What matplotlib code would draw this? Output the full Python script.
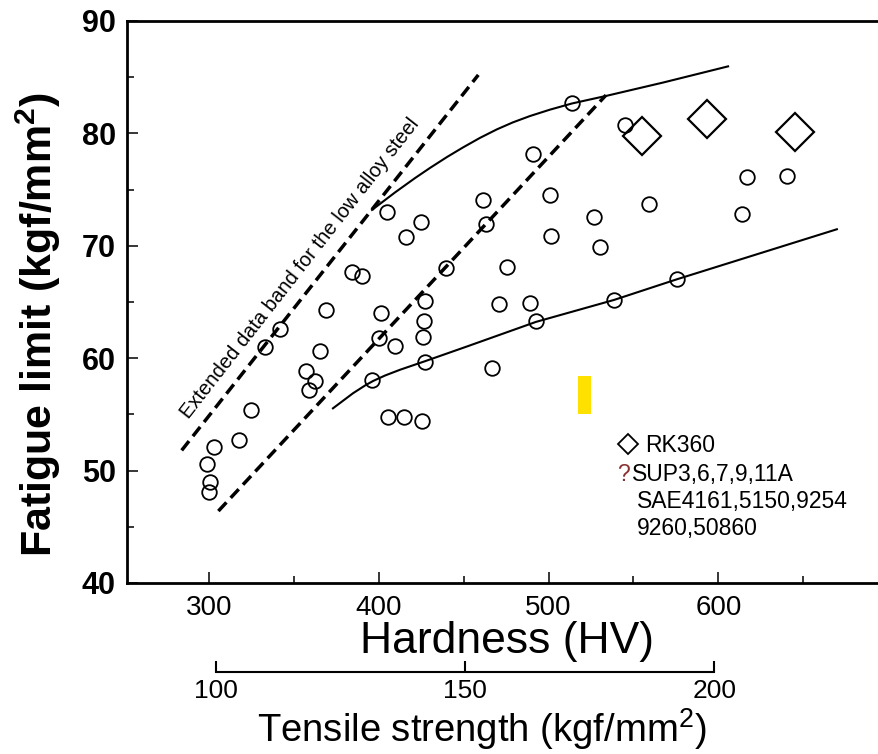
import matplotlib.pyplot as plt
from matplotlib.patches import Rectangle

plt.rcParams['font.family'] = ['Liberation Sans', 'DejaVu Sans']
plt.rcParams['mathtext.fontset'] = 'custom'
plt.rcParams['mathtext.rm'] = 'Liberation Sans'
plt.rcParams['mathtext.bf'] = 'Liberation Sans:bold'

# spring steels SUP3,6,7,9,11A / SAE... (open circles)
hv_circle = [300.2, 300.6, 299.1, 302.9, 317.8, 324.6, 333.2, 342.0, 368.7, 365.1,
             357.0, 362.2, 359.1, 396.1, 401.0, 400.3, 409.5, 427.2, 426.7, 426.2,
             427.0, 405.4, 415.0, 425.3, 404.8, 424.7, 416.0, 384.4, 390.3, 439.3,
             466.4, 470.8, 489.0, 492.6, 475.3, 463.1, 461.5, 491.0, 501.1, 501.6,
             526.9, 530.4, 513.6, 545.0, 559.3, 538.7, 575.4, 617.0, 640.6, 613.7]
fl_circle = [48.1, 49.0, 50.6, 52.1, 52.7, 55.4, 61.0, 62.6, 64.3, 60.6,
             58.9, 58.0, 57.2, 58.1, 64.0, 61.8, 61.1, 65.1, 63.3, 61.9,
             59.7, 54.8, 54.8, 54.4, 73.0, 72.1, 70.8, 67.7, 67.3, 68.0,
             59.1, 64.8, 64.9, 63.3, 68.1, 71.9, 74.1, 78.2, 74.5, 70.9,
             72.6, 69.9, 82.7, 80.7, 73.7, 65.2, 67.0, 76.1, 76.2, 72.8]

# RK360 (open diamonds)
hv_rk = [555.2, 593.5, 645.1]
fl_rk = [79.8, 81.3, 80.1]

# extended band for low alloy steel (dashed)
hv_dash_upper = [283.9, 458.6]
fl_dash_upper = [51.8, 85.2]
hv_dash_lower = [305.5, 533.8]
fl_dash_lower = [46.4, 83.4]

# scatter band of spring steels (solid)
hv_curve_upper = [396.0, 409.5, 421.3, 430.2, 440.2, 449.6, 459.6, 469.6, 479.0,
                  489.0, 500.8, 513.8, 534.4, 567.4, 605.7]
fl_curve_upper = [73.19, 74.74, 76.02, 76.93, 77.9, 78.75, 79.6, 80.36, 80.98,
                  81.54, 82.11, 82.66, 83.35, 84.52, 85.96]
hv_curve_lower = [373.0, 384.8, 391.9, 396.6, 403.7, 412.5, 427.2, 451.9, 492.6,
                  538.5, 575.6, 669.8]
fl_curve_lower = [55.54, 56.88, 57.57, 57.97, 58.46, 58.97, 59.73, 61.04, 63.23,
                  65.18, 67.02, 71.47]

hv_ticks = [300, 400, 500, 600]
fl_ticks = [40, 50, 60, 70, 80, 90]
ts_ticks = [100, 150, 200]

fig = plt.figure(figsize=(8.79, 7.54), dpi=100)
ax = fig.add_axes([0.1445, 0.2268, 0.8555, 0.7454])

ax.plot(hv_dash_upper, fl_dash_upper, color='black', lw=2.5, dashes=(3.4, 1.8))
ax.plot(hv_dash_lower, fl_dash_lower, color='black', lw=2.5, dashes=(3.4, 1.8))
ax.plot(hv_curve_upper, fl_curve_upper, color='black', lw=1.5)
ax.plot(hv_curve_lower, fl_curve_lower, color='black', lw=1.5)

ax.plot(hv_circle, fl_circle, 'o', ms=10.5, mfc='none', mec='black', mew=1.3)
ax.plot(hv_rk, fl_rk, 'D', ms=19, mfc='none', mec='black', mew=1.6)

# yellow mark
ax.add_patch(Rectangle((517.1, 55.0), 7.7, 3.44, color='#FFE100', lw=0))

ax.text(353.6, 68.0, 'Extended data band for the low alloy steel', fontsize=14.5,
        rotation=52, rotation_mode='anchor', ha='center', va='center')

# legend-like notes
ax.plot([546.5], [52.37], 'D', ms=9.7, mfc='none', mec='black', mew=1.3)
ax.text(556.8, 51.65, 'RK360', fontsize=16.5, va='baseline')
ax.text(540.3, 49.07, '?', fontsize=16.5, va='baseline', color='#8a3030')
ax.text(549.1, 49.07, 'SUP3,6,7,9,11A', fontsize=16.5, va='baseline')
ax.text(551.9, 46.67, 'SAE4161,5150,9254', fontsize=16.5, va='baseline')
ax.text(551.9, 44.27, '9260,50860', fontsize=16.5, va='baseline')

ax.set_xlim(251.7, 694.6)
ax.set_ylim(40, 90)
ax.set_xticks(hv_ticks)
ax.set_xticks([350, 450, 550, 650], minor=True)
ax.set_yticks(fl_ticks)
ax.set_yticks([45, 55, 65, 75, 85], minor=True)
ax.tick_params(which='both', direction='in', width=1.1)
ax.tick_params(which='major', length=8)
ax.tick_params(which='minor', length=5)
ax.tick_params(axis='x', labelsize=20, pad=9)
ax.tick_params(axis='y', labelsize=22, pad=8)
for lab in ax.get_yticklabels():
    lab.set_fontweight('bold')
ax.spines['right'].set_visible(False)
for s in ['left', 'bottom', 'top']:
    ax.spines[s].set_linewidth(2)

# tensile strength scale under the hardness axis
ts = fig.add_axes([0.1445, 0.1088, 0.8555, 0.001])
ts.patch.set_visible(False)
ts.set_xlim(82.1, 233.1)
for s in ['left', 'right', 'top']:
    ts.spines[s].set_visible(False)
ts.spines['bottom'].set_bounds(100, 200)
ts.spines['bottom'].set_linewidth(1.5)
ts.set_yticks([])
ts.set_xticks(ts_ticks)
ts.tick_params(direction='in', length=8, width=1.5, labelsize=19, pad=5)

fig.text(38 / 879, 1 - 325 / 754, r'Fatigue limit (kgf/mm$^\mathbf{2}$)', rotation=90,
         ha='center', va='center', fontsize=31, fontweight='bold')
fig.text(507 / 879, 1 - 642 / 754, 'Hardness (HV)', ha='center', va='center', fontsize=32)
fig.text(482 / 879, 1 - 729 / 754, r'Tensile strength (kgf/mm$^2$)', ha='center',
         va='center', fontsize=27.5)

fig.savefig('out.png', dpi=100)
